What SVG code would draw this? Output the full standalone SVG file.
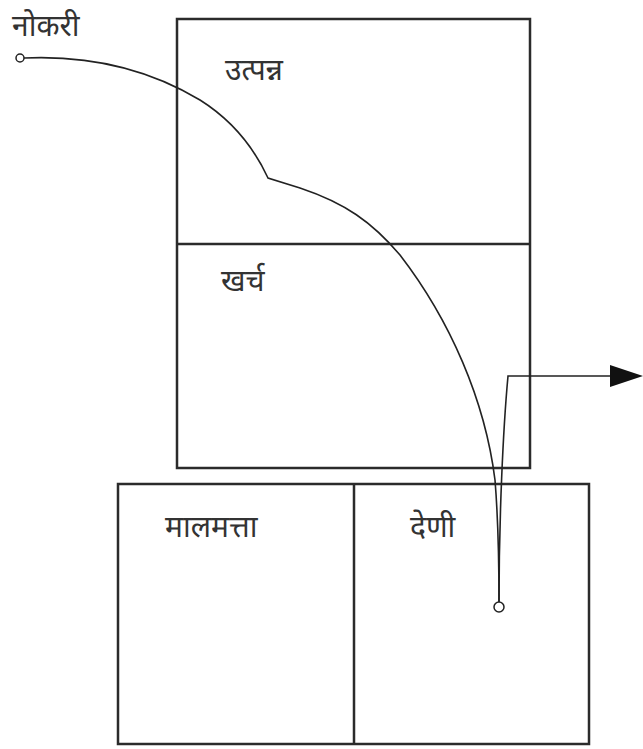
<svg xmlns="http://www.w3.org/2000/svg" width="643" height="749" viewBox="0 0 643 749">
<style>
.box{fill:none;stroke:#2b2b2b;stroke-width:2.5}
.lbl{font-family:"Noto Sans","Noto Sans Devanagari","DejaVu Sans",sans-serif;font-size:30px;fill:#333}
.wire{fill:none;stroke:#222;stroke-width:1.6}
</style>
<defs>
<marker id="ah" markerWidth="33" markerHeight="22" refX="0" refY="11" orient="auto" markerUnits="userSpaceOnUse" viewBox="0 0 33 22">
<path d="M0,0 L33,11 L0,22 Z" fill="#111"/>
</marker>
</defs>
<rect width="643" height="749" fill="#fff"/>
<g id="top-box">
<rect class="box" x="177" y="19" width="353" height="449"/>
<line class="box" x1="177" y1="244" x2="530" y2="244"/>
</g>
<g id="utpanna"><text class="lbl" x="225" y="80">उत्पन्न</text></g>
<g id="kharcha"><text class="lbl" x="221" y="291">खर्च</text></g>
<g id="bottom-box">
<rect class="box" x="118" y="484" width="471" height="260"/>
<line class="box" x1="354" y1="484" x2="354" y2="744"/>
</g>
<g id="malmatta"><text class="lbl" x="165" y="537">मालमत्ता</text></g>
<g id="deni"><text class="lbl" x="410" y="537">देणी</text></g>
<g id="nokari"><text class="lbl" x="12" y="36">नोकरी</text></g>
<g id="connectors">
<path class="wire" d="M 24 58 C 90 55 150 70 200 100 C 235 122 255 150 268 178 L 300 188 C 345 203 372 222 400 255 C 450 320 485 400 495 480 C 499 530 499 570 499 602"/>
<path class="wire" d="M 499 602 C 499 520 503 430 508 376 L 610 376" stroke-width="2.4" marker-end="url(#ah)"/>
<circle cx="20" cy="58" r="4" fill="#fff" stroke="#222" stroke-width="1.5"/>
<circle cx="499" cy="607" r="5" fill="none" stroke="#222" stroke-width="1.5"/>
</g>
</svg>
